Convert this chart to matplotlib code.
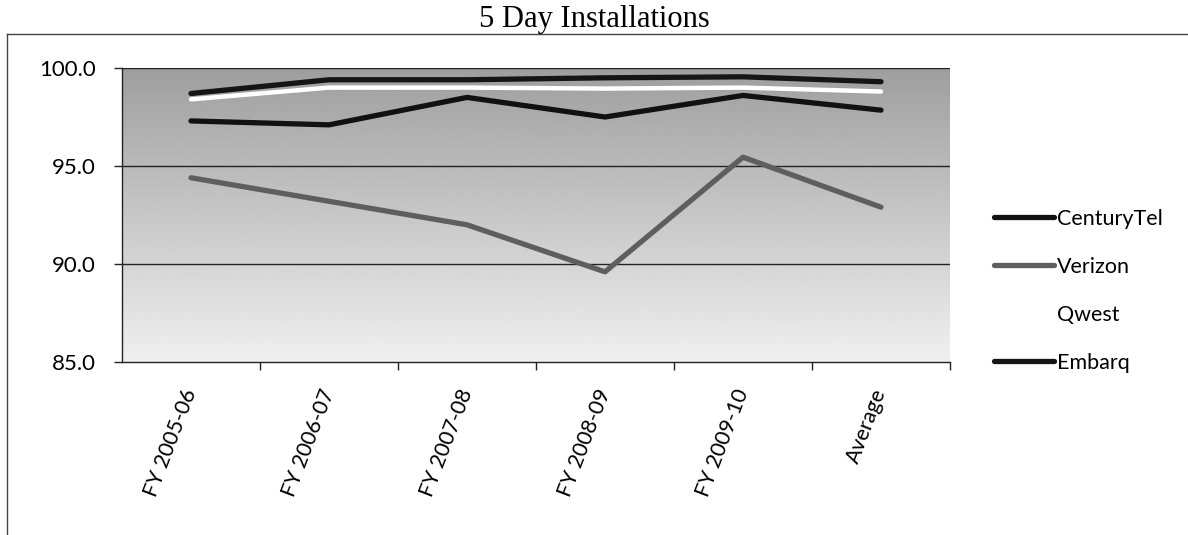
import matplotlib.pyplot as plt
import numpy as np
from matplotlib.lines import Line2D

periods = ["FY 2005-06", "FY 2006-07", "FY 2007-08", "FY 2008-09", "FY 2009-10", "Average"]
centurytel = [97.3, 97.1, 98.5, 97.5, 98.6, 97.85]
verizon = [94.4, 93.2, 92.0, 89.6, 95.45, 92.9]
qwest = [98.4, 99.0, 99.0, 98.95, 99.0, 98.8]
embarq = [98.7, 99.4, 99.4, 99.5, 99.55, 99.3]
yticks = [85.0, 90.0, 95.0, 100.0]

plt.rcParams["font.family"] = ["Lato", "DejaVu Sans"]

fig = plt.figure(figsize=(11.88, 5.35), dpi=100)
ax = fig.add_axes([122 / 1188, 1 - 362 / 535, 828 / 1188, 294 / 535])

x = np.arange(len(periods))
ax.set_xlim(-0.5, len(periods) - 0.5)
ax.set_ylim(85, 100)

# gray gradient plot area, darker at top
grad = np.linspace(0.94, 0.62, 256).reshape(-1, 1)
ax.imshow(grad, cmap="gray", vmin=0, vmax=1, aspect="auto",
          extent=(-0.5, len(periods) - 0.5, 85, 100), origin="lower", zorder=0)

for v in yticks[1:]:
    ax.axhline(v, color="#222222", lw=1.0, zorder=1)

ax.plot(x, centurytel, color="#111111", lw=3.8, solid_capstyle="round", zorder=3, label="CenturyTel")
ax.plot(x, verizon, color="#5e5e5e", lw=3.8, solid_capstyle="round", zorder=3, label="Verizon")
ax.plot(x, qwest, color="#ffffff", lw=3.2, solid_capstyle="round", zorder=3, label="Qwest")
ax.plot(x, embarq, color="#151515", lw=3.8, solid_capstyle="round", zorder=3, label="Embarq")

ax.set_yticks(yticks)
ax.set_yticklabels([f"{v:.1f}" for v in yticks], fontsize=16)
ax.set_xticks(x)
ax.set_xticklabels(periods, fontsize=15.5, rotation=69, ha="right", va="center",
                   rotation_mode="anchor")
ax.set_xticks(np.arange(len(periods)) + 0.5, minor=True)
ax.tick_params(axis="x", which="major", length=0, pad=20)
ax.tick_params(axis="x", which="minor", length=6, width=1, color="#222222", direction="out")
ax.tick_params(axis="y", length=6, width=1, pad=13, direction="out", color="#222222")

for s in ["top", "right"]:
    ax.spines[s].set_visible(False)
for s in ["left", "bottom"]:
    ax.spines[s].set_color("#222222")
    ax.spines[s].set_linewidth(1.0)

fig.text(0.5, 1 - 19 / 535, "5 Day Installations", ha="center", va="center",
         fontsize=22, family=["Liberation Serif", "DejaVu Serif"])

# outer chart frame (left and top edges)
fig.add_artist(Line2D([7 / 1188, 7 / 1188], [0, 1 - 34 / 535], color="#444444", lw=1.0))
fig.add_artist(Line2D([7 / 1188, 1], [1 - 34 / 535, 1 - 34 / 535], color="#444444", lw=1.0))

leg = fig.legend(loc="upper left", bbox_to_anchor=(985 / 1188, 1 - 200 / 535),
                 frameon=False, fontsize=15.5, handlelength=2.8, handletextpad=0.15,
                 labelspacing=1.3, borderaxespad=0)

fig.savefig("out.png", dpi=100)
